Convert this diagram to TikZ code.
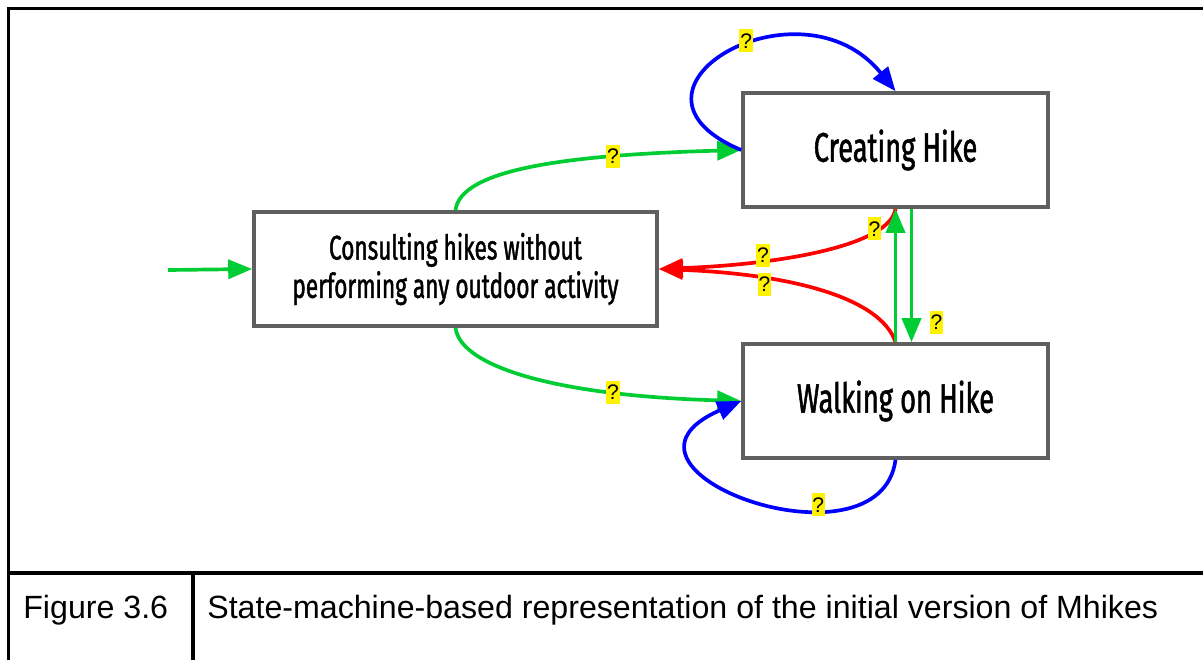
\documentclass[tikz,border=0pt]{standalone}
\usepackage{fontspec}
\setmainfont{Liberation Sans}
\newfontfamily\statefont[FakeStretch=0.66, FakeBold=1.2]{Fira Sans}
\usetikzlibrary{arrows.meta,calc}

\definecolor{trgreen}{RGB}{0,204,51}
\definecolor{boxgray}{RGB}{95,95,95}

\tikzset{
  state/.style={draw=boxgray, line width=2.1pt, fill=white, align=center,
    minimum width=6.1cm, minimum height=2.28cm,
    font=\statefont\fontsize{23.5}{28}\selectfont},
  trans/.style={line width=2.1pt, -{Triangle[length=0.48cm,width=0.38cm]}},
  qmark/.style={fill=yellow, text=black, inner xsep=0.5pt, inner ysep=0pt,
    minimum height=0.46cm, font=\fontsize{12}{14}\selectfont},
  tablerule/.style={line width=1.8pt, line cap=rect}
}

\begin{document}
\begin{tikzpicture}[x=0.02cm, y=-0.02cm]
\useasboundingbox (0,0) rectangle (1203,659);

% states
\node[state] (create) at (895.5,150) {Creating Hike};
\node[state] (walk) at (895.5,401) {Walking on Hike};
\node[state, minimum width=8.06cm, font=\statefont\fontsize{19.5}{21.8}\selectfont]
  (consult) at (455.5,269) {Consulting hikes without\\performing any outdoor activity};

% initial arrow
\coordinate (start) at (168,270);
\draw[trans, trgreen] (start) -- (consult.west);

% transitions
\draw[trans, trgreen] (consult.north) .. controls +(5,-40) and +(-180,5) .. (create.west)
  node[qmark, pos=0.73] {?};
\draw[trans, trgreen] (consult.south) .. controls +(5,40) and +(-180,-5) .. (walk.west)
  node[qmark, pos=0.73] {?};
\draw[trans, blue] (create.west) .. controls +(-143,-60) and +(-95.5,-118) .. (create.north)
  node[qmark, pos=0.56, yshift=3.4pt] {?};
\draw[trans, blue] (walk.south) .. controls +(-15.5,117) and +(-158,69) .. (walk.west)
  node[qmark, pos=0.32, yshift=4pt] {?};
\draw[trans, red] (create.south) .. controls +(-5,35) and +(130,-5) .. (consult.east)
  node[qmark, pos=0.71, yshift=3pt] {?};
\draw[trans, red] (walk.north) .. controls +(-15,-45) and +(130,5) .. (consult.east)
  node[qmark, pos=0.7, yshift=-3.4pt] {?};
\draw[trans, trgreen] (walk.north) -- (create.south)
  node[qmark, pos=0.85, xshift=-0.42cm] {?};
\draw[trans, trgreen] ($(create.south)+(16,0)$) -- ($(walk.north)+(16,0)$)
  node[qmark, pos=0.85, xshift=0.5cm] {?};

% caption table
\draw[tablerule] (1210,8.5) -- (8.5,8.5) -- (8.5,670);
\draw[tablerule] (8.5,573) -- (1210,573);
\draw[tablerule] (193,573) -- (193,670);
\node[anchor=base west, inner sep=0, font=\fontsize{18.3}{22}\selectfont] (fignum) at (23,618) {Figure 3.6};
\node[anchor=base west, inner sep=0, font=\fontsize{18.3}{22}\selectfont] (figcap) at (207,618)
  {State-machine-based representation of the initial version of Mhikes};
\end{tikzpicture}
\end{document}
